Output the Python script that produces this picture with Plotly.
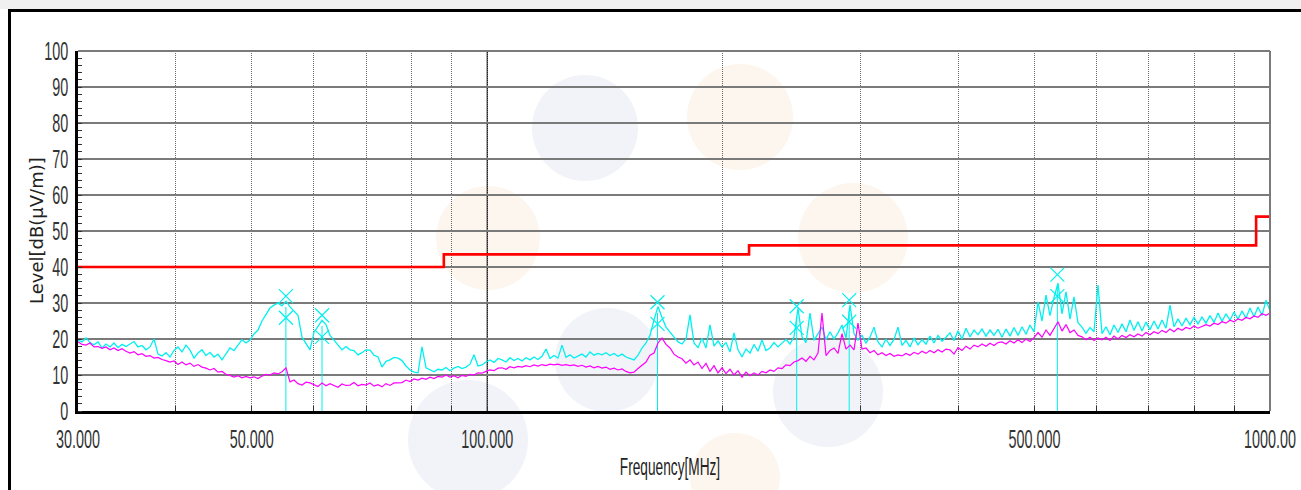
import numpy as np
import plotly.graph_objects as go

# ---------------- data ----------------
freq_start_mhz = 30.0
freq_stop_mhz = 1000.0

# peak detector trace (cyan), dB(uV/m), one value per sweep step
peak_level = [
    19.7, 19.2, 20.3, 19.0, 18.4, 19.2, 17.5, 18.6, 17.8, 18.9, 17.6, 18.5, 17.9, 18.7, 19.3, 17.8, 18.2, 17.0, 17.8, 20.0, 15.8,
    15.3, 16.2, 15.0, 16.8, 17.8, 16.4, 18.3, 16.9, 14.7, 16.1, 17.0, 15.4, 16.3, 15.0, 15.8, 14.2, 15.9, 17.5, 16.8, 18.4, 19.8, 18.9, 19.7,
    21.4, 22.5, 25.0, 26.9, 28.6, 29.4, 30.0, 29.2, 30.5, 28.9, 27.8, 26.6, 20.5, 18.8, 17.0,
    21.9, 23.5, 25.2, 24.0, 21.0, 19.7, 18.5, 17.0, 17.9, 17.0, 16.8, 15.6, 16.2, 17.0, 16.9, 15.5, 15.0, 12.2, 13.8, 14.2, 14.9, 14.7,
    14.0, 12.5, 11.4, 10.8, 10.6, 17.8, 12.0, 11.4, 10.9, 11.6, 11.4, 12.1, 11.2, 11.9, 12.4, 11.8, 12.2, 13.0, 15.6, 12.5, 12.8, 13.6, 14.2, 13.5, 14.6,
    14.2, 13.6, 14.8, 14.0, 14.6, 13.9, 14.8, 14.2, 15.0, 14.3, 15.2, 17.2, 14.6, 15.4, 14.7, 18.3, 14.9, 15.6, 14.7, 15.3, 15.8, 15.0, 16.4, 15.5, 16.0,
    15.6, 16.2, 15.4, 16.0, 15.2, 15.8, 15.0, 14.5, 14.2, 15.5, 17.5, 18.9, 21.0, 25.3, 29.0, 26.0, 23.3, 21.9, 20.5, 19.2, 18.6, 20.0, 26.7, 18.9, 17.6,
    20.2, 17.5, 23.9, 18.0, 19.5, 17.8, 19.0, 16.4, 21.7, 17.0, 15.0, 17.2, 16.1, 18.5, 16.6, 19.7, 16.8, 17.5, 19.0, 17.8, 18.9, 19.9, 18.6, 20.6, 28.5,
    20.6, 19.0, 27.2, 19.6, 21.5, 23.3, 19.8, 22.0, 20.0, 21.7, 23.9, 20.2, 29.5, 21.5, 19.7, 21.0, 18.9, 20.5, 23.3, 19.2, 17.8, 20.0, 18.2, 19.9, 23.3,
    18.2, 19.6, 17.8, 20.3, 18.4, 19.8, 18.6, 20.8, 18.9, 21.0, 19.4, 20.5, 21.7, 19.5, 22.3, 20.0, 23.0, 20.6, 22.5, 21.2, 22.8, 20.8, 22.5, 21.0, 22.7,
    20.5, 22.8, 20.8, 23.2, 21.0, 23.4, 21.3, 23.9, 22.0, 30.3, 25.0, 32.2, 26.5, 31.5, 35.5, 27.0, 33.1, 25.5, 31.7, 24.5, 23.3, 21.6, 23.2, 22.0, 35.0,
    21.5, 23.4, 21.2, 23.9, 21.8, 24.2, 22.0, 25.3, 22.4, 24.8, 22.2, 24.7, 22.6, 25.0, 22.8, 25.3, 23.0, 29.4, 23.4, 25.6, 23.6, 25.8, 24.0, 26.0, 24.2,
    26.1, 24.4, 26.5, 24.6, 27.2, 24.9, 27.0, 25.2, 27.5, 25.5, 27.8, 25.8, 28.6, 26.2, 28.9, 26.5, 30.8, 27.8,
]

# average detector trace (magenta), dB(uV/m)
avg_level = [
    19.2, 18.5, 18.3, 18.9, 17.8, 17.9, 17.4, 17.8, 17.0, 17.5, 16.8, 17.3, 16.6, 16.1, 16.5, 15.6, 15.9, 15.2, 15.4, 14.7, 14.9,
    14.3, 14.0, 13.6, 13.9, 12.9, 13.6, 12.8, 13.3, 12.4, 12.9, 12.2, 11.9, 11.4, 11.8, 10.8, 11.0, 10.2, 9.9, 9.4, 9.8, 9.2, 9.6, 9.2,
    9.5, 9.0, 9.7, 10.2, 10.0, 10.6, 10.3, 10.9, 12.0, 8.1, 8.6, 7.6, 7.2, 8.0, 7.8,
    7.2, 6.8, 7.8, 7.0, 7.6, 7.2, 6.6, 7.5, 7.1, 7.2, 7.9, 7.0, 7.4, 7.2, 7.8, 6.9, 7.3, 6.7, 7.6, 7.1, 7.8, 7.8,
    7.9, 8.6, 8.2, 8.9, 8.6, 9.1, 8.8, 9.4, 9.0, 9.6, 9.4, 10.0, 9.4, 9.8, 9.2, 9.9, 9.6, 10.2, 10.0, 10.6, 10.5, 11.0, 11.4, 11.2, 11.9,
    12.0, 11.6, 12.3, 12.0, 12.4, 12.2, 12.6, 12.3, 12.8, 12.5, 12.9, 12.6, 13.0, 12.8, 13.0, 12.7, 12.9, 12.6, 12.8, 12.4, 12.7, 12.2, 12.5, 12.0, 12.4,
    11.9, 12.2, 11.6, 11.9, 11.4, 11.7, 11.0, 10.6, 10.8, 11.8, 12.8, 13.6, 15.5, 16.1, 18.9, 20.3, 18.5, 17.5, 15.8, 15.0, 14.5, 13.3, 14.2, 12.8, 13.6,
    11.8, 13.2, 11.0, 12.6, 10.6, 12.0, 10.4, 11.6, 10.0, 11.2, 9.4, 10.8, 9.8, 10.6, 10.0, 11.0, 10.6, 11.4, 11.0, 12.0, 11.8, 12.8, 12.6, 13.6, 14.0,
    14.7, 13.8, 15.2, 14.2, 16.1, 27.2, 15.4, 16.8, 17.5, 16.0, 21.5, 17.2, 18.3, 17.0, 24.4, 17.2, 17.5, 16.2, 16.8, 15.6, 16.2, 15.4, 16.0, 15.2, 15.6,
    15.3, 16.0, 15.5, 16.3, 15.8, 16.6, 16.0, 16.8, 16.2, 17.0, 16.4, 17.2, 17.0, 15.8, 17.6, 16.8, 18.0, 17.2, 18.3, 17.8, 18.6, 18.0, 18.8, 18.2, 19.0,
    19.2, 18.6, 19.5, 18.9, 19.8, 19.0, 20.0, 19.3, 20.4, 21.8, 20.5, 22.5, 21.0, 23.0, 24.8, 22.2, 24.0, 21.8, 22.5, 21.0, 20.6, 19.8, 20.5, 19.6, 20.3,
    19.8, 20.5, 19.6, 20.8, 20.0, 21.0, 20.4, 21.2, 20.6, 21.4, 20.8, 21.8, 21.2, 22.0, 21.5, 22.4, 21.8, 22.8, 22.0, 23.0, 22.4, 23.2, 22.8, 23.6, 23.0,
    23.4, 24.0, 23.6, 24.4, 24.0, 24.8, 24.4, 25.2, 24.8, 25.6, 25.2, 26.0, 25.6, 26.4, 26.0, 27.0, 26.6, 27.2,
]

# limit line (step)
limit_freq = [30, 88, 216, 960, 1000]
limit_level = [40, 43.5, 46, 54, 54]

# markers
marker_freq = [55.3, 61.5, 165.0, 248.5, 290.0, 535.0]
marker_level = [28.9, 23.6, 27.2, 26.1, 27.8, 34.9]

# axis ticks
x_tick_vals = [30, 50, 100, 500, 1000]
x_tick_text = ["30.000", "50.000", "100.000", "500.000", "1000.00"]
x_minor_vals = [40, 50, 60, 70, 80, 90, 200, 300, 400, 500, 600, 700, 800, 900]
y_tick_vals = list(range(0, 101, 10))

# ---------------- figure ----------------
peak_freq = np.geomspace(freq_start_mhz, freq_stop_mhz, len(peak_level))
avg_freq = np.geomspace(freq_start_mhz, freq_stop_mhz, len(avg_level))

CYAN = "#00F0F0"
MAGENTA = "#FF00FF"
RED = "#FF0000"
NARROW = "Liberation Sans, Arial, sans-serif"

fig = go.Figure()

# marker drop lines
mx, my = [], []
for f, v in zip(marker_freq, marker_level):
    mx += [f, f, None]
    my += [0, v, None]
fig.add_trace(go.Scatter(x=mx, y=my, mode="lines", line=dict(color=CYAN, width=1), hoverinfo="skip"))

fig.add_trace(go.Scatter(x=peak_freq, y=peak_level, mode="lines", line=dict(color=CYAN, width=1.3), name="Peak"))
fig.add_trace(go.Scatter(x=avg_freq, y=avg_level, mode="lines", line=dict(color=MAGENTA, width=1.2), name="Average"))
fig.add_trace(go.Scatter(x=limit_freq, y=limit_level, mode="lines", line=dict(color=RED, width=2.6, shape="hv"), name="Limit"))

# marker symbols: stacked thin crosses
sym_x = list(marker_freq) + list(marker_freq)
sym_y = [v + 3.0 for v in marker_level] + [v - 3.0 for v in marker_level]
fig.add_trace(go.Scatter(x=sym_x, y=sym_y, mode="markers",
                         marker=dict(symbol="x-thin-open", size=14, color=CYAN, line=dict(color=CYAN, width=1.2))))

# ---------- layout helpers (pixel -> paper) ----------
L, R, T, B = 78, 1270, 51, 411
def pxx(x):
    return (x - L) / (R - L)
def pxy(y):
    return (B - y) / (B - T)

shapes = []
GRAY_WM = "#F1F3F8"
ORANGE_WM = "#FDF6EE"
for cx, cy, r, col in [
    (585, 128, 53, GRAY_WM), (740, 117, 53, ORANGE_WM), (488, 238, 52, ORANGE_WM),
    (853, 238, 55, ORANGE_WM), (607, 360, 52, GRAY_WM), (828, 392, 55, GRAY_WM),
    (468, 440, 60, GRAY_WM), (735, 478, 45, ORANGE_WM),
]:
    shapes.append(dict(type="circle", xref="paper", yref="paper", layer="below",
                       x0=pxx(cx - r), x1=pxx(cx + r), y0=pxy(cy + r), y1=pxy(cy - r),
                       fillcolor=col, line=dict(width=0)))

# frame: gray band, black top line, black left line
shapes.append(dict(type="rect", xref="paper", yref="paper", layer="below",
                   x0=pxx(0), x1=pxx(1301), y0=pxy(9), y1=pxy(0), fillcolor="#F0F0F0", line=dict(width=0)))
shapes.append(dict(type="line", xref="paper", yref="paper", layer="above",
                   x0=pxx(8), x1=pxx(1301), y0=pxy(10.5), y1=pxy(10.5), line=dict(color="black", width=3)))
shapes.append(dict(type="line", xref="paper", yref="paper", layer="above",
                   x0=pxx(9.5), x1=pxx(9.5), y0=pxy(490), y1=pxy(10.5), line=dict(color="black", width=3)))
# top & right plot borders
shapes.append(dict(type="line", xref="paper", yref="paper", layer="above",
                   x0=0, x1=1, y0=1, y1=1, line=dict(color="#7A7A7A", width=2)))
shapes.append(dict(type="line", xref="paper", yref="paper", layer="above",
                   x0=1, x1=1, y0=0, y1=1, line=dict(color="#7A7A7A", width=2)))
# solid decade line at 100 MHz
shapes.append(dict(type="line", xref="x", yref="paper", layer="between",
                   x0=100, x1=100, y0=0, y1=1, line=dict(color="black", width=1.2)))

annotations = [
    dict(text="Level[dB(μV/m)]", xref="paper", yref="paper", x=pxx(36), y=0.5,
         xanchor="center", yanchor="middle", textangle=-90, showarrow=False,
         font=dict(family="DejaVu Sans", size=18, color="#222")),
    dict(text="Frequency[MHz]", xref="paper", yref="paper", x=pxx(670), y=pxy(467),
         xanchor="center", yanchor="middle", showarrow=False,
         font=dict(family=NARROW, size=18, color="#222")),
]

fig.update_layout(
    width=1301, height=490,
    margin=dict(l=L, r=1301 - R, t=T, b=490 - B, autoexpand=False),
    paper_bgcolor="white", plot_bgcolor="rgba(0,0,0,0)",
    showlegend=False, shapes=shapes, annotations=annotations,
)

fig.update_xaxes(
    type="log", range=[np.log10(freq_start_mhz), np.log10(freq_stop_mhz)],
    tickmode="array", tickvals=x_tick_vals, ticktext=x_tick_text,
    ticks="inside", ticklen=5, tickcolor="#333", tickwidth=1,
    showgrid=True, gridcolor="#6A6A6A", gridwidth=1, griddash="1px,1px",
    minor=dict(tickvals=x_minor_vals, ticks="inside", ticklen=5, tickcolor="#333",
               showgrid=True, gridcolor="#6A6A6A", gridwidth=1, griddash="1px,1px"),
    showline=True, linecolor="black", linewidth=2.5,
    zeroline=False, ticklabeloverflow="allow",
    tickfont=dict(family=NARROW, size=20, color="#333"),
    ticklabelstandoff=8,
)
fig.update_yaxes(
    range=[0, 100], tickmode="array", tickvals=y_tick_vals,
    ticks="", showgrid=True, gridcolor="#7A7A7A", gridwidth=2,
    minor=dict(dtick=2, ticks="inside", ticklen=4, tickcolor="#333", showgrid=False),
    showline=True, linecolor="black", linewidth=2.5, zeroline=False,
    tickfont=dict(family=NARROW, size=20, color="#333"),
    ticklabelstandoff=3,
)

# the reference uses a tall, condensed face: stretch the real text glyphs to match
post = """
document.body.style.margin = '0';
document.body.style.overflow = 'hidden';
(function(){
  var gd = document.getElementById('{plot_id}');
  if(!gd) return;
  function st(sel, sx, sy, anchor){
    gd.querySelectorAll(sel).forEach(function(el){
      var cur = el.getAttribute('transform') || '';
      if(el.getAttribute('data-st') === cur && cur !== '') return;
      var b = el.getBBox();
      var cx = anchor === 'right' ? b.x + b.width : b.x + b.width / 2;
      var cy = b.y + b.height / 2;
      var t = cur + ' translate(' + cx + ',' + cy + ') scale(' + sx + ',' + sy + ') translate(' + (-cx) + ',' + (-cy) + ')';
      el.setAttribute('transform', t);
      el.setAttribute('data-st', t);
    });
  }
  function run(){
    try {
      st('.xtick text', 0.72, 1.33, 'center');
      st('.ytick text', 0.72, 1.33, 'right');
      st('.annotation[data-index="1"] text', 0.76, 1.3, 'center');
    } catch(e) {}
  }
  run();
  if(gd.on) gd.on('plotly_afterplot', run);
})();
"""

fig.write_html("out.html", config={"displayModeBar": False}, post_script=post)
